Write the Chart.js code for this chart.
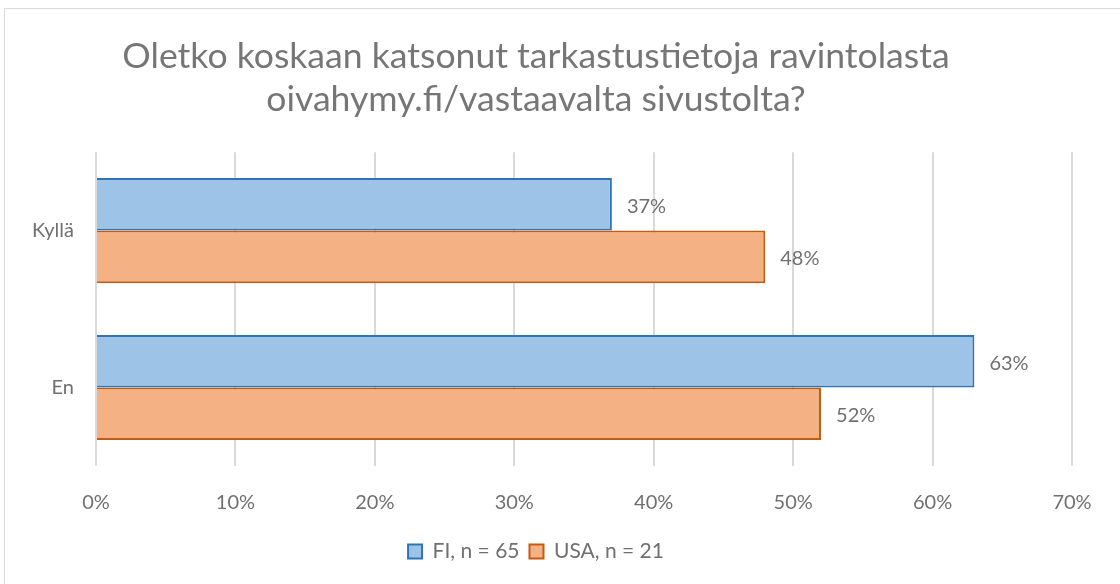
<!DOCTYPE html>
<html>
<head>
<meta charset="utf-8">
<script src="https://cdn.jsdelivr.net/npm/chart.js@4/dist/chart.umd.min.js"></script>
<style>
    html, body { margin: 0; padding: 0; background: #fff; }
    #frame { position: absolute; left: 4px; top: 8px; width: 1130px; height: 600px; border: 1px solid #d9d9d9; }
    #wrap { position: absolute; left: 0; top: 0; width: 1120px; height: 584px; }
</style>
</head>
<body>
<div id="frame"></div>
<div id="wrap"><canvas id="chart" width="1120" height="584"></canvas></div>
<script>
// survey answers, share of respondents
const categories = ['Kyllä', 'En'];
const fiValues = [37, 63];
const usaValues = [48, 52];
const seriesLabels = ['FI, n = 65', 'USA, n = 21'];
const titleLines = ['Oletko koskaan katsonut tarkastustietoja ravintolasta', 'oivahymy.fi/vastaavalta sivustolta?'];

const textColor = '#707070';
const fontFamily = 'Lato, "Open Sans", sans-serif';

// draw value labels right of each bar
const valueLabels = {
    id: 'valueLabels',
    afterDatasetsDraw(chart) {
        const ctx = chart.ctx;
        ctx.save();
        ctx.font = '20px ' + fontFamily;
        ctx.fillStyle = textColor;
        ctx.textAlign = 'left';
        ctx.textBaseline = 'middle';
        chart.data.datasets.forEach((ds, i) => {
            chart.getDatasetMeta(i).data.forEach((bar, j) => {
                ctx.fillText(ds.data[j] + '%', bar.x + 15, bar.y + 2);
            });
        });
        ctx.restore();
    }
};

new Chart(document.getElementById('chart'), {
    type: 'bar',
    data: {
        labels: categories,
        datasets: [
            {
                label: seriesLabels[0],
                data: fiValues,
                backgroundColor: '#9dc3e6',
                borderColor: '#2e75b6',
                borderWidth: 2
            },
            {
                label: seriesLabels[1],
                data: usaValues,
                backgroundColor: '#f4b183',
                borderColor: '#c55a11',
                borderWidth: 2
            }
        ]
    },
    options: {
        indexAxis: 'y',
        responsive: false,
        animation: false,
        categoryPercentage: 0.67,
        barPercentage: 1,
        layout: { padding: { left: 0, right: 48, top: 0, bottom: 12 } },
        scales: {
            x: {
                min: 0,
                max: 70,
                ticks: {
                    stepSize: 10,
                    callback: v => v + '%',
                    color: textColor,
                    font: { size: 20, family: fontFamily },
                    padding: 25
                },
                grid: { color: '#d9d9d9', lineWidth: 2, drawTicks: false },
                border: { display: false },
                afterFit: s => { s.height = 65; }
            },
            y: {
                ticks: {
                    color: textColor,
                    font: { size: 20, family: fontFamily },
                    padding: 14
                },
                grid: { display: false },
                border: { display: false },
                afterFit: s => { s.width = 96; }
            }
        },
        plugins: {
            title: {
                display: true,
                text: titleLines,
                color: '#767676',
                font: { size: 35.6, family: fontFamily, weight: 'normal', lineHeight: 1.21 },
                padding: { top: 35, bottom: 31 }
            },
            legend: {
                position: 'bottom',
                labels: {
                    color: textColor,
                    font: { size: 21, family: fontFamily },
                    boxWidth: 14,
                    boxHeight: 14,
                    padding: 10
                }
            },
            tooltip: { enabled: false }
        }
    },
    plugins: [valueLabels]
});
</script>
</body>
</html>
